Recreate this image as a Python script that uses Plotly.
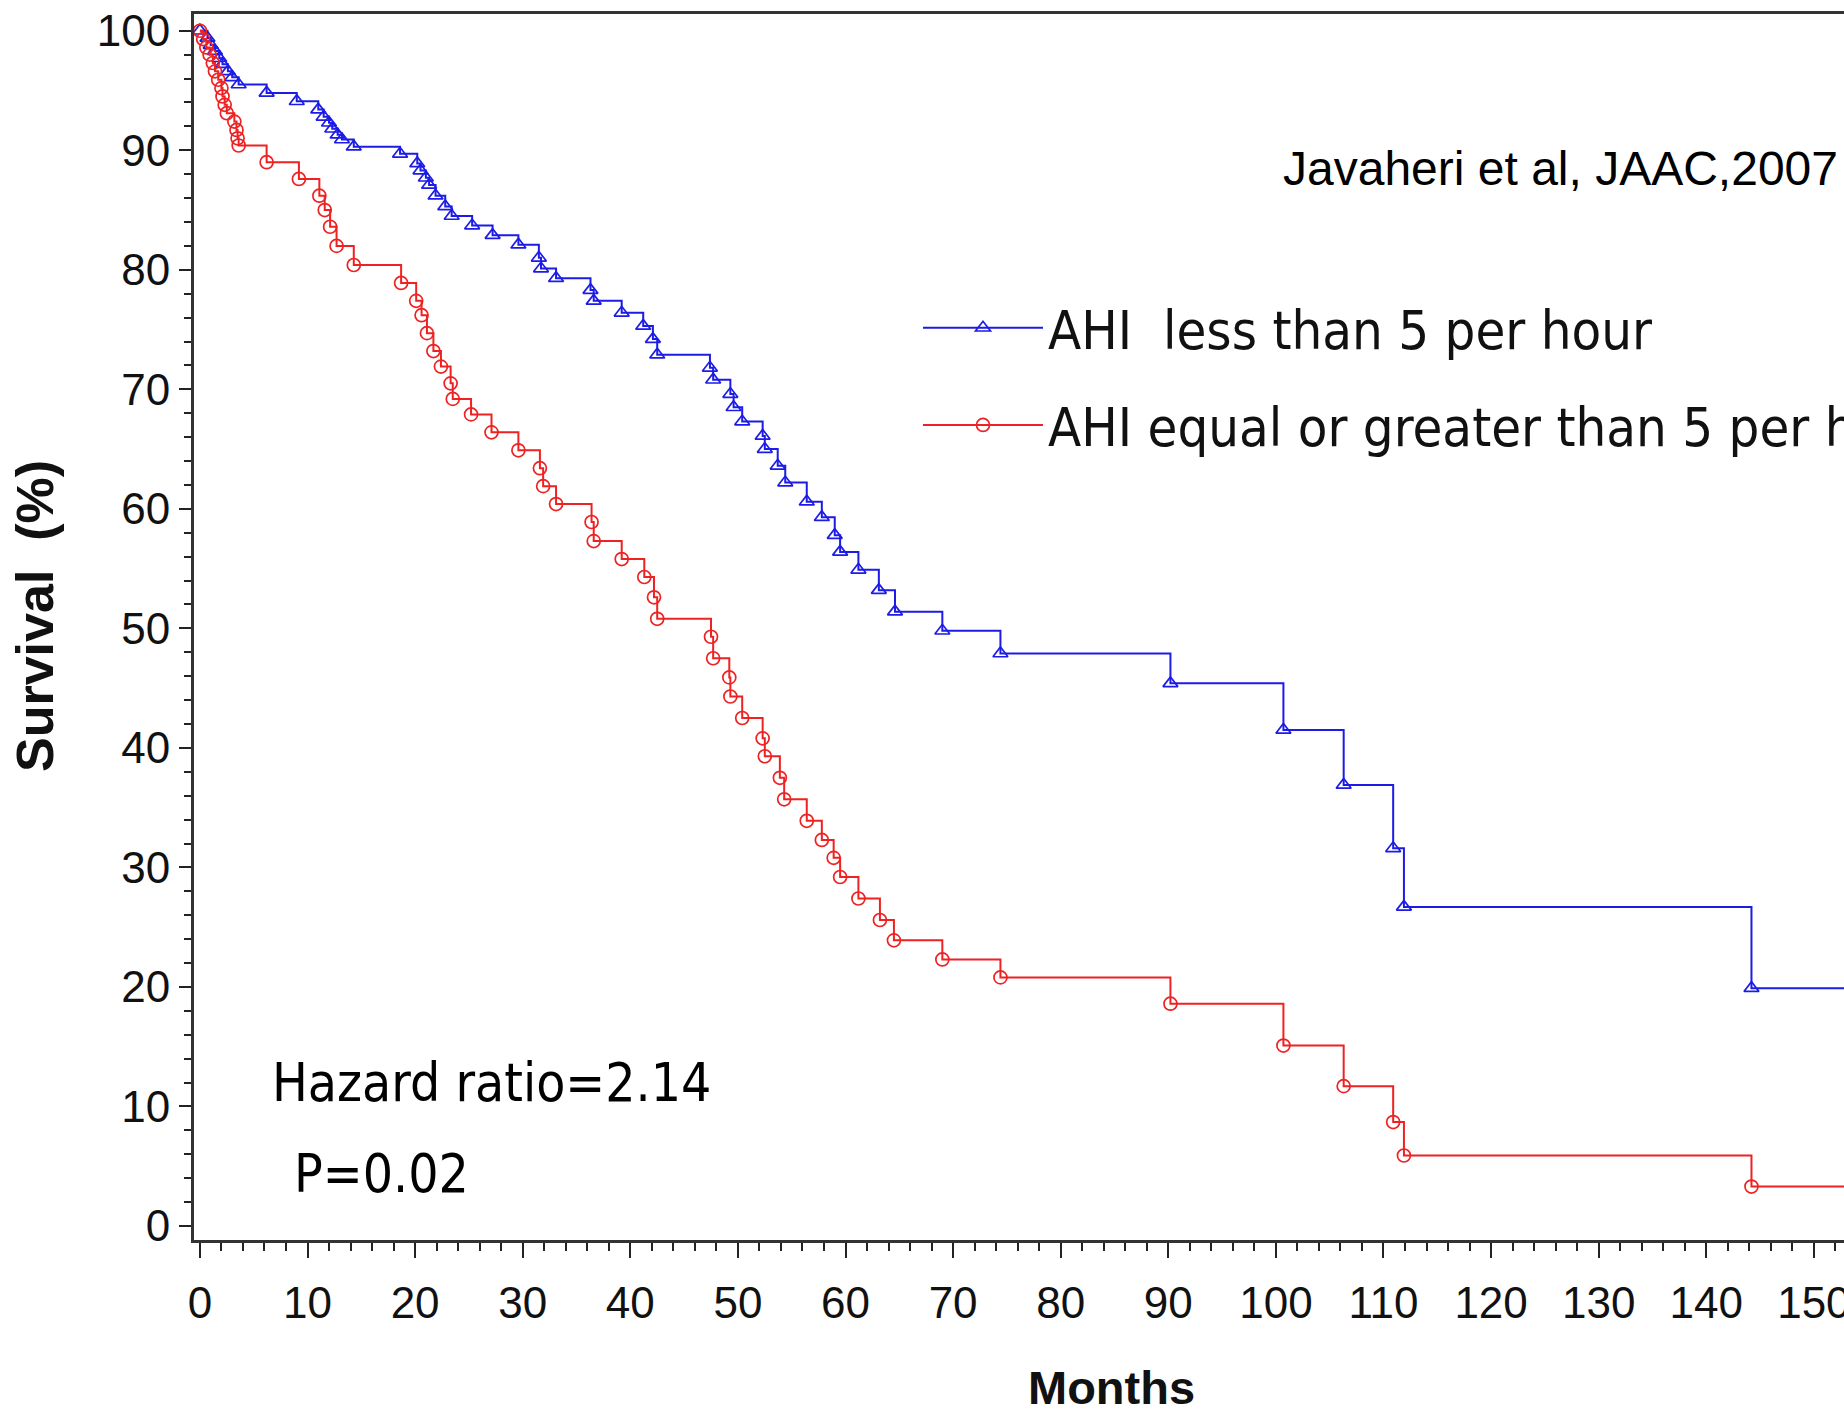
import plotly.graph_objects as go

# ---------------- data ----------------
group_names = ["AHI\u00a0 less than 5 per hour", "AHI equal or greater than 5 per hour"]

months_low = [0.7, 1.0, 1.4, 1.8, 2.1, 2.6, 3.0, 3.6, 6.2, 9.0,
              11.0, 11.5, 12.0, 12.3, 12.8, 13.2, 14.3, 18.6,
              20.2, 20.5, 21.0, 21.3, 21.9, 22.8, 23.4, 25.3, 27.2, 29.6,
              31.5, 31.7, 33.1, 36.3, 36.6, 39.2, 41.2, 42.1, 42.5,
              47.4, 47.7, 49.3, 49.6, 50.4, 52.3, 52.5, 53.7, 54.4,
              56.4, 57.8, 59.0, 59.5, 61.2, 63.1, 64.6, 69.0, 74.4,
              90.2, 100.7, 106.3, 110.9, 111.9, 144.2]
survival_low = [99.4, 98.8, 98.3, 97.7, 97.2, 96.6, 96.1, 95.5, 94.8, 94.1,
                93.4, 92.8, 92.3, 91.8, 91.3, 90.9, 90.3, 89.7,
                88.9, 88.3, 87.7, 87.1, 86.2, 85.3, 84.5, 83.7, 82.9, 82.1,
                81.0, 80.1, 79.3, 78.3, 77.4, 76.4, 75.3, 74.2, 72.9,
                71.8, 70.8, 69.6, 68.5, 67.3, 66.1, 65.0, 63.6, 62.2,
                60.6, 59.3, 57.8, 56.4, 54.9, 53.2, 51.4, 49.8, 47.9,
                45.4, 41.5, 36.9, 31.6, 26.7, 19.9]

months_high = [0.3, 0.6, 0.9, 1.2, 1.4, 1.7, 2.0, 2.1, 2.3, 2.5, 3.2, 3.4, 3.5, 3.6,
               6.2, 9.2, 11.1, 11.6, 12.1, 12.7, 14.3,
               18.7, 20.1, 20.6, 21.1, 21.7, 22.4, 23.3, 23.5, 25.2, 27.1, 29.6,
               31.6, 31.9, 33.1, 36.4, 36.6, 39.2, 41.3, 42.2, 42.5,
               47.5, 47.7, 49.2, 49.3, 50.4, 52.3, 52.5, 53.9, 54.3,
               56.4, 57.8, 58.9, 59.5, 61.2, 63.2, 64.5, 69.0, 74.4,
               90.2, 100.7, 106.3, 110.9, 111.9, 144.2]
survival_high = [99.3, 98.6, 98.0, 97.3, 96.6, 95.9, 95.2, 94.5, 93.8, 93.1, 92.4, 91.7, 91.0, 90.4,
                 89.0, 87.6, 86.2, 85.0, 83.6, 82.0, 80.4,
                 78.9, 77.4, 76.2, 74.7, 73.2, 71.9, 70.5, 69.2, 67.9, 66.4, 64.9,
                 63.4, 61.9, 60.4, 58.9, 57.3, 55.8, 54.3, 52.6, 50.8,
                 49.3, 47.5, 45.9, 44.3, 42.5, 40.8, 39.3, 37.5, 35.7,
                 33.9, 32.3, 30.8, 29.2, 27.4, 25.6, 23.9, 22.3, 20.8,
                 18.6, 15.1, 11.7, 8.7, 5.9, 3.3]

start_month = 0
start_survival = 100
followup_end_month = 160

x_ticks = list(range(0, 151, 10))
y_ticks = list(range(0, 101, 10))

citation = "Javaheri et al, JAAC,2007"
hazard_text = "Hazard ratio=2.14"
p_text = "P=0.02"
x_title = "Months"
y_title = "Survival\u00a0 (%)"

# ---------------- figure ----------------
W, H = 1844, 1418
ML, MR, MT, MB = 194, 0, 14, 178

BLUE = "#1c1ce6"
RED = "#ee2222"

def km_arrays(t, s):
    xs = [start_month] + list(t) + [followup_end_month]
    ys = [start_survival] + list(s) + [s[-1]]
    return xs, ys

fig = go.Figure()
for name, t, s, color, sym in [
    (group_names[0], months_low, survival_low, BLUE, "triangle-up-open"),
    (group_names[1], months_high, survival_high, RED, "circle-open"),
]:
    xs, ys = km_arrays(t, s)
    fig.add_trace(go.Scatter(
        x=xs, y=ys, mode="lines+markers", name=name, legendgroup=name,
        line=dict(color=color, width=2, shape="hv"),
        marker=dict(symbol=sym, size=13, color=color, line=dict(color=color, width=1.7)),
        cliponaxis=True,
    ))

tick_font = dict(family="Liberation Sans Narrow, Arial Narrow, Liberation Sans, Arial", size=44, color="#111111")

fig.update_layout(
    width=W, height=H,
    margin=dict(l=ML, r=MR, t=MT, b=MB, pad=0, autoexpand=False),
    paper_bgcolor="white", plot_bgcolor="white",
    showlegend=True,
    legend=dict(
        x=(918 - ML) / (W - ML - MR), xanchor="left", y=0.778, yanchor="top",
        font=dict(family="DejaVu Sans Condensed, DejaVu Sans", size=54, color="#111111"),
        bgcolor="rgba(0,0,0,0)", borderwidth=0, tracegroupgap=24,
        itemsizing="trace", itemwidth=120,
    ),
    xaxis=dict(
        range=[-0.55, 152.8], tickmode="array", tickvals=x_ticks,
        ticks="outside", ticklen=15, tickwidth=2, tickcolor="#222222",
        minor=dict(dtick=2, tick0=0, ticks="outside", ticklen=8, tickwidth=1.5, tickcolor="#222222"),
        showline=True, linecolor="#333333", linewidth=3, mirror=True,
        showgrid=False, zeroline=False, tickfont=tick_font, ticklabelstandoff=7,
        ticklabeloverflow="allow",
    ),
    yaxis=dict(
        range=[-1.17, 101.4], tickmode="array", tickvals=y_ticks,
        ticks="outside", ticklen=12, tickwidth=2, tickcolor="#222222",
        minor=dict(dtick=2, tick0=0, ticks="outside", ticklen=7, tickwidth=1.5, tickcolor="#222222"),
        showline=True, linecolor="#333333", linewidth=3, mirror=False,
        showgrid=False, zeroline=False, tickfont=tick_font, ticklabelstandoff=0,
    ),
)

def px_to_paper_x(px):
    return (px - ML) / (W - ML - MR)

def px_to_paper_y(py):
    return (H - MB - py) / (H - MT - MB)

annos = [
    dict(text=citation, x=px_to_paper_x(1840), y=px_to_paper_y(168), xanchor="right", yanchor="middle",
         font=dict(family="Liberation Sans, Arial", size=48, color="black")),
    dict(text=hazard_text, x=px_to_paper_x(270), y=px_to_paper_y(1082), xanchor="left", yanchor="middle",
         font=dict(family="DejaVu Sans Condensed, DejaVu Sans", size=53, color="black")),
    dict(text=p_text, x=px_to_paper_x(292), y=px_to_paper_y(1173), xanchor="left", yanchor="middle",
         font=dict(family="DejaVu Sans Condensed, DejaVu Sans", size=53, color="black")),
    dict(text="<b>" + x_title + "</b>", x=px_to_paper_x(1111), y=px_to_paper_y(1416), xanchor="center", yanchor="bottom",
         font=dict(family="Liberation Sans Narrow, Arial Narrow, Liberation Sans, Arial", size=47, color="#111111")),
    dict(text="<b>" + y_title + "</b>", x=px_to_paper_x(35), y=px_to_paper_y(616), xanchor="center", yanchor="middle",
         textangle=-90,
         font=dict(family="Liberation Sans Narrow, Arial Narrow, Liberation Sans, Arial", size=52, color="#111111")),
]
for a in annos:
    fig.add_annotation(xref="paper", yref="paper", showarrow=False, **a)

fig.write_html("out.html")
